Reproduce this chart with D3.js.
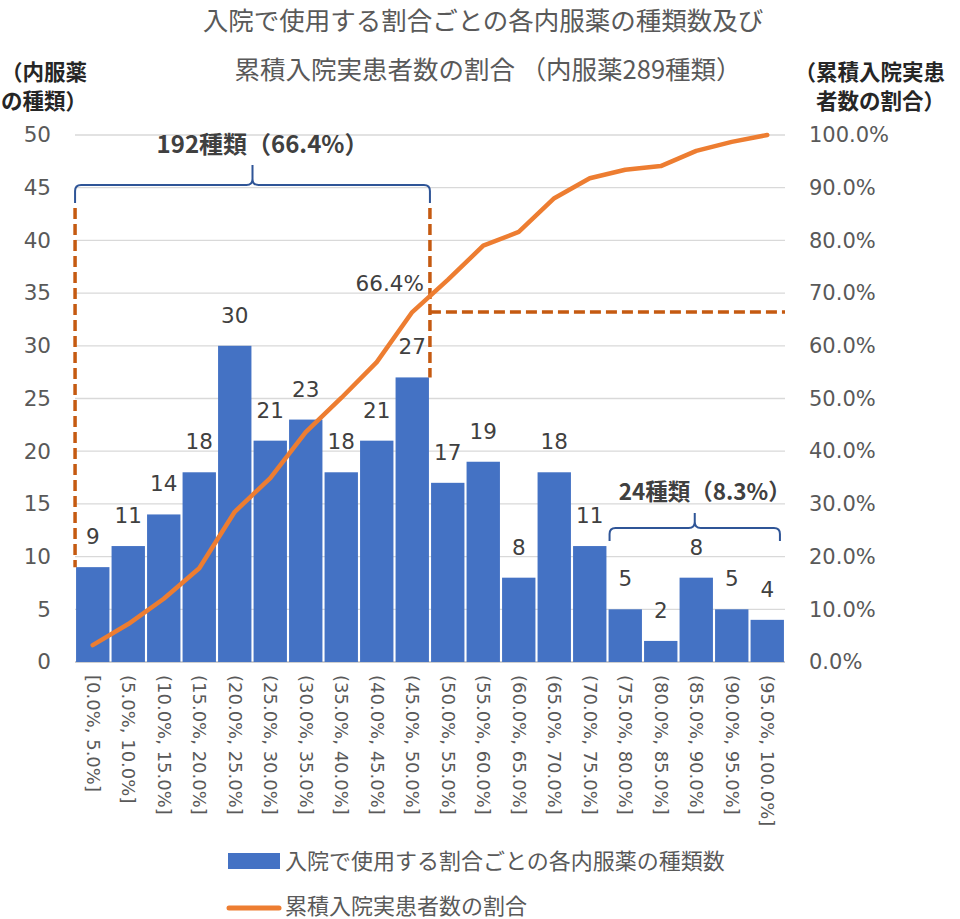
<!DOCTYPE html>
<html><head><meta charset="utf-8">
<script src="https://cdn.jsdelivr.net/npm/d3@7"></script>
<style>
body{margin:0;background:#fff;}
svg{display:block;font-family:"DejaVu Sans","Noto Sans CJK JP",sans-serif;}
.jp{font-family:"Noto Sans CJK JP","DejaVu Sans",sans-serif;}
</style></head>
<body>
<script>
// Bins of in-hospital usage ratio
const categories = ["[0.0%, 5.0%]","(5.0%, 10.0%]","(10.0%, 15.0%]","(15.0%, 20.0%]","(20.0%, 25.0%]",
  "(25.0%, 30.0%]","(30.0%, 35.0%]","(35.0%, 40.0%]","(40.0%, 45.0%]","(45.0%, 50.0%]",
  "(50.0%, 55.0%]","(55.0%, 60.0%]","(60.0%, 65.0%]","(65.0%, 70.0%]","(70.0%, 75.0%]",
  "(75.0%, 80.0%]","(80.0%, 85.0%]","(85.0%, 90.0%]","(90.0%, 95.0%]","(95.0%, 100.0%]"];
// Number of oral drug types per bin
const drugCounts = [9,11,14,18,30,21,23,18,21,27,17,19,8,18,11,5,2,8,5,4];
// Cumulative share of actual inpatients (%)
const cumulativeShare = [3.2,7.2,12.0,17.8,28.5,34.9,43.6,50.1,56.9,66.4,72.5,79.0,81.6,88.0,91.8,93.4,94.1,97.0,98.7,100.0];
const leftTicks = [0,5,10,15,20,25,30,35,40,45,50];
const rightTicks = [0,10,20,30,40,50,60,70,80,90,100];
const titleLines = ["入院で使用する割合ごとの各内服薬の種類数及び","累積入院実患者数の割合 （内服薬289種類）"];
const leftTitle = ["（内服薬","の種類）"];
const rightTitle = ["（累積入院実患","者数の割合）"];
const legendLabels = ["入院で使用する割合ごとの各内服薬の種類数","累積入院実患者数の割合"];
const markerShare = 66.4;
const groupA = {from:0, to:9, label:"192種類（66.4%）"};
const groupB = {from:15, to:19, label:"24種類（8.3%）"};

const W = 960, H = 919;
const svg = d3.select("body").append("svg").attr("width", W).attr("height", H);
const plot = {left:75, right:785, top:135, bottom:662};

const x = d3.scaleBand().domain(categories).range([plot.left, plot.right]).paddingInner(0.06).paddingOuter(0.03);
const yL = d3.scaleLinear().domain([0,50]).range([plot.bottom, plot.top]);
const yR = d3.scaleLinear().domain([0,100]).range([plot.bottom, plot.top]);

const textCol = "#595959", darkText = "#404040";

// Title
svg.append("g").attr("class","jp").selectAll("text").data(titleLines).join("text")
  .attr("x", (d,i)=> i ? 488 : 483).attr("y", (d,i)=>30 + i*49)
  .attr("text-anchor","middle").attr("font-size", 25.5).attr("fill", textCol).text(d=>d);

// Axis titles
svg.append("g").attr("class","jp").selectAll("text").data(leftTitle).join("text")
  .attr("x", 1).attr("y",(d,i)=>80+i*29).attr("font-size",21.5).attr("font-weight","bold")
  .attr("fill","#262626").text(d=>d);
svg.append("g").attr("class","jp").selectAll("text").data(rightTitle).join("text")
  .attr("x", 945).attr("y",(d,i)=>80+i*29).attr("text-anchor","end").attr("font-size",21.5).attr("font-weight","bold")
  .attr("fill","#262626").text(d=>d);

// Gridlines
svg.append("g").selectAll("line").data(leftTicks).join("line")
  .attr("x1", plot.left).attr("x2", plot.right)
  .attr("y1", d=>yL(d)).attr("y2", d=>yL(d))
  .attr("stroke", d=> d===0 ? "#bfbfbf" : "#d9d9d9").attr("stroke-width", 1.3);

// Left axis
const axL = svg.append("g").attr("transform",`translate(${plot.left},0)`)
  .call(d3.axisLeft(yL).tickValues(leftTicks).tickSize(0).tickPadding(24));
axL.select(".domain").remove();
axL.selectAll("text").attr("font-size",21.5).attr("fill",textCol).attr("font-family","DejaVu Sans");

// Right axis
const axR = svg.append("g").attr("transform",`translate(${plot.right},0)`)
  .call(d3.axisRight(yR).tickValues(rightTicks).tickSize(0).tickPadding(24).tickFormat(d=>d.toFixed(1)+"%"));
axR.select(".domain").remove();
axR.selectAll("text").attr("font-size",21).attr("fill",textCol).attr("font-family","DejaVu Sans");

// Bars
svg.append("g").selectAll("rect").data(drugCounts).join("rect")
  .attr("x",(d,i)=>x(categories[i])).attr("width",x.bandwidth())
  .attr("y",d=>yL(d)).attr("height",d=>yL(0)-yL(d))
  .attr("fill","#4472C4");

// Bar value labels
svg.append("g").selectAll("text").data(drugCounts).join("text")
  .attr("x",(d,i)=>x(categories[i])+x.bandwidth()/2)
  .attr("y",d=>yL(d)-23)
  .attr("text-anchor","middle").attr("font-size",21.5).attr("fill",darkText).text(d=>d);

// Category labels (rotated)
svg.append("g").selectAll("text").data(categories).join("text")
  .attr("transform",(d)=>`translate(${x(d)+x.bandwidth()/2-6},${plot.bottom+13}) rotate(90)`)
  .attr("font-size",18).attr("fill",textCol).text(d=>d);

// Reference dashed lines
const dashCol = "#C55A11";
const cx = i => x(categories[i]) + x.bandwidth()/2;
const xA0 = x(categories[groupA.from]) - 1;
const xA1 = x(categories[groupA.to]) + x.bandwidth() + 1;
const dashed = svg.append("g").attr("stroke",dashCol).attr("stroke-width",3.5).attr("stroke-dasharray","11 5").attr("fill","none");
dashed.append("line").attr("x1",xA0).attr("x2",xA0).attr("y1",208).attr("y2",yL(drugCounts[groupA.from]));
dashed.append("line").attr("x1",xA1).attr("x2",xA1).attr("y1",208).attr("y2",yL(drugCounts[groupA.to]));
dashed.append("line").attr("x1",xA1).attr("x2",plot.right).attr("y1",yR(markerShare)).attr("y2",yR(markerShare));

// Cumulative line
const line = d3.line().x((d,i)=>cx(i)).y(d=>yR(d));
svg.append("path").datum(cumulativeShare).attr("d",line)
  .attr("fill","none").attr("stroke","#ED7D31").attr("stroke-width",4.5)
  .attr("stroke-linecap","round").attr("stroke-linejoin","round");

// Marker label
svg.append("text").attr("x",xA1-6).attr("y",yR(markerShare)-21).attr("text-anchor","end")
  .attr("font-size",21.5).attr("fill",darkText).text(markerShare.toFixed(1)+"%");

// Curly brackets with labels
function brace(x0, x1, yH, yEnd, yPeak, label, labelY, fs){
  const m = (x0+x1)/2, r = 6;
  const p = d3.path();
  p.moveTo(x0, yEnd);
  p.lineTo(x0, yH + r);
  p.quadraticCurveTo(x0, yH, x0 + r, yH);
  p.lineTo(m - r, yH);
  p.quadraticCurveTo(m, yH, m, yH - r);
  p.lineTo(m, yPeak);
  p.moveTo(m, yH - r);
  p.quadraticCurveTo(m, yH, m + r, yH);
  p.lineTo(x1 - r, yH);
  p.quadraticCurveTo(x1, yH, x1, yH + r);
  p.lineTo(x1, yEnd);
  svg.append("path").attr("d",p.toString()).attr("fill","none")
    .attr("stroke","#2F5597").attr("stroke-width",2);
  svg.append("text").attr("class","jp").attr("x",m + 10).attr("y",labelY).attr("text-anchor","middle")
    .attr("font-size",fs).attr("font-weight","bold").attr("fill",darkText).text(label);
}
brace(xA0, xA1, 185, 203, 165, groupA.label, 153, 24);
brace(x(categories[groupB.from])+1, x(categories[groupB.to])+x.bandwidth()-4, 528, 541, 513, groupB.label, 500, 22.5);

// Legend
const lg = svg.append("g").attr("class","jp");
lg.append("rect").attr("x",228).attr("y",853).attr("width",52).attr("height",16).attr("fill","#4472C4");
lg.append("text").attr("x",285).attr("y",869).attr("font-size",22).attr("fill",textCol).text(legendLabels[0]);
lg.append("line").attr("x1",229).attr("x2",279).attr("y1",908).attr("y2",908)
  .attr("stroke","#ED7D31").attr("stroke-width",5).attr("stroke-linecap","round");
lg.append("text").attr("x",285).attr("y",914).attr("font-size",22).attr("fill",textCol).text(legendLabels[1]);
</script>
</body></html>
